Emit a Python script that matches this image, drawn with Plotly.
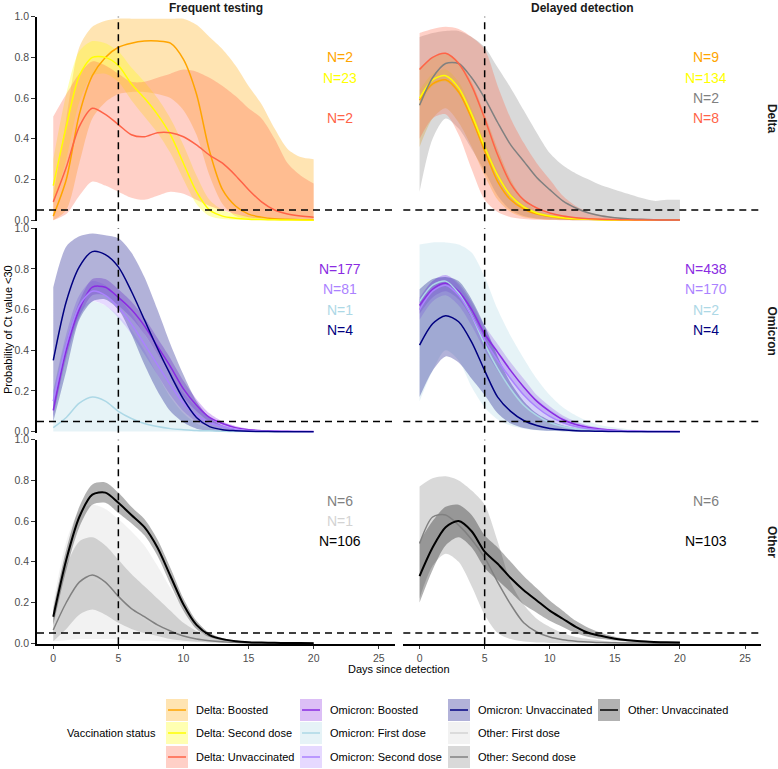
import plotly.graph_objects as go

W, H = 778, 769
DAYS = list(range(21))
X_TICKS = [0, 5, 10, 15, 20, 25]
Y_TICKS = [0.0, 0.2, 0.4, 0.6, 0.8, 1.0]
COL_TITLES = ["Frequent testing", "Delayed detection"]
ROW_TITLES = ["Delta", "Omicron", "Other"]

COLORS = {
    "Delta: Boosted": "#FFA500",
    "Delta: Second dose": "#FFFF00",
    "Delta: Unvaccinated": "#FF6347",
    "Delta: First dose": "#808080",
    "Omicron: Boosted": "#8A2BE2",
    "Omicron: First dose": "#ADD8E6",
    "Omicron: Second dose": "#AB82FF",
    "Omicron: Unvaccinated": "#000080",
    "Other: First dose": "#D3D3D3",
    "Other: Second dose": "#808080",
    "Other: Unvaccinated": "#000000",
}

# ---------------- Delta, frequent testing ----------------
FT_DELTA_BOOSTED_MEAN = [0.02,0.2,0.52,0.71,0.8,0.85,0.87,0.88,0.88,0.87,0.79,0.62,0.34,0.15,0.07,0.03,0.015,0.007,0.004,0.002,0.001]
FT_DELTA_BOOSTED_LO = [0.0,0.05,0.28,0.5,0.58,0.62,0.63,0.63,0.62,0.6,0.54,0.42,0.22,0.08,0.02,0.005,0.001,0,0,0,0]
FT_DELTA_BOOSTED_HI = [0.12,0.5,0.85,0.95,0.98,0.99,0.99,0.99,0.99,0.99,0.99,0.96,0.9,0.84,0.76,0.66,0.57,0.45,0.35,0.31,0.30]
FT_DELTA_SECOND_MEAN = [0.17,0.46,0.71,0.8,0.8,0.76,0.67,0.6,0.52,0.42,0.28,0.14,0.05,0.02,0.01,0.005,0.003,0.002,0.001,0.001,0.0]
FT_DELTA_SECOND_LO = [0.08,0.3,0.58,0.71,0.72,0.68,0.59,0.51,0.43,0.33,0.2,0.08,0.02,0.006,0.002,0.001,0,0,0,0,0]
FT_DELTA_SECOND_HI = [0.3,0.62,0.83,0.88,0.87,0.83,0.75,0.68,0.6,0.5,0.37,0.22,0.1,0.05,0.03,0.02,0.012,0.008,0.006,0.005,0.004]
FT_DELTA_UNVAX_MEAN = [0.09,0.26,0.46,0.55,0.52,0.47,0.42,0.41,0.43,0.43,0.41,0.37,0.32,0.28,0.22,0.15,0.09,0.05,0.03,0.02,0.015]
FT_DELTA_UNVAX_LO = [0.0,0.03,0.12,0.19,0.17,0.14,0.11,0.1,0.12,0.14,0.13,0.1,0.07,0.05,0.03,0.015,0.008,0.005,0.003,0.002,0.001]
FT_DELTA_UNVAX_HI = [0.51,0.62,0.72,0.78,0.76,0.72,0.68,0.68,0.7,0.72,0.74,0.73,0.7,0.66,0.61,0.55,0.5,0.4,0.28,0.22,0.18]

# ---------------- Delta, delayed detection ----------------
DD_DELTA_BOOSTED_MEAN = [0.59,0.67,0.69,0.63,0.5,0.34,0.19,0.1,0.055,0.03,0.018,0.01,0.006,0.004,0.002,0.001,0.001,0,0,0,0]
DD_DELTA_BOOSTED_LO = [0.36,0.5,0.55,0.48,0.36,0.22,0.1,0.04,0.015,0.006,0.002,0.001,0,0,0,0,0,0,0,0,0]
DD_DELTA_BOOSTED_HI = [0.75,0.8,0.82,0.78,0.68,0.52,0.35,0.2,0.1,0.05,0.03,0.018,0.01,0.006,0.004,0.002,0.001,0.001,0,0,0]
DD_DELTA_SECOND_MEAN = [0.6,0.69,0.71,0.65,0.52,0.36,0.22,0.12,0.065,0.035,0.02,0.012,0.007,0.004,0.002,0.001,0.001,0,0,0,0]
DD_DELTA_SECOND_LO = [0.56,0.66,0.68,0.62,0.49,0.33,0.2,0.105,0.055,0.03,0.016,0.01,0.006,0.003,0.002,0.001,0,0,0,0,0]
DD_DELTA_SECOND_HI = [0.64,0.72,0.74,0.68,0.55,0.39,0.24,0.135,0.075,0.04,0.024,0.014,0.008,0.005,0.003,0.002,0.001,0.001,0,0,0]
DD_DELTA_FIRST_MEAN = [0.565,0.7,0.77,0.77,0.7,0.6,0.48,0.37,0.29,0.21,0.15,0.095,0.06,0.035,0.02,0.012,0.007,0.004,0.002,0.001,0.001]
DD_DELTA_FIRST_LO = [0.14,0.4,0.5,0.45,0.35,0.24,0.12,0.05,0.02,0.008,0.003,0.001,0,0,0,0,0,0,0,0,0]
DD_DELTA_FIRST_HI = [0.9,0.92,0.93,0.93,0.9,0.85,0.75,0.65,0.54,0.43,0.33,0.27,0.23,0.2,0.17,0.15,0.13,0.11,0.095,0.1,0.1]
DD_DELTA_UNVAX_MEAN = [0.74,0.8,0.82,0.77,0.66,0.5,0.32,0.18,0.1,0.06,0.035,0.02,0.012,0.007,0.004,0.003,0.002,0.001,0.001,0.001,0.001]
DD_DELTA_UNVAX_LO = [0.4,0.5,0.52,0.42,0.25,0.1,0.04,0.015,0.006,0.002,0.001,0,0,0,0,0,0,0,0,0,0]
DD_DELTA_UNVAX_HI = [0.92,0.94,0.95,0.94,0.9,0.84,0.66,0.5,0.38,0.28,0.2,0.12,0.07,0.04,0.025,0.015,0.01,0.007,0.005,0.004,0.003]

# ---------------- Omicron, frequent testing ----------------
FT_OMI_BOOSTED_MEAN = [0.105,0.4,0.6,0.71,0.71,0.66,0.6,0.52,0.42,0.32,0.21,0.13,0.07,0.04,0.02,0.01,0.005,0.003,0.002,0.001,0.001]
FT_OMI_BOOSTED_LO = [0.07,0.36,0.56,0.67,0.67,0.62,0.56,0.48,0.38,0.28,0.17,0.1,0.05,0.028,0.014,0.007,0.003,0.002,0.001,0,0]
FT_OMI_BOOSTED_HI = [0.15,0.44,0.64,0.75,0.75,0.7,0.64,0.56,0.46,0.36,0.25,0.16,0.09,0.05,0.028,0.015,0.008,0.005,0.003,0.002,0.002]
FT_OMI_FIRST_MEAN = [0.02,0.07,0.14,0.17,0.15,0.1,0.065,0.04,0.025,0.015,0.01,0.006,0.004,0.002,0.001,0.001,0,0,0,0,0]
FT_OMI_FIRST_LO = [0.001]*21
FT_OMI_FIRST_HI = [0.2,0.45,0.6,0.64,0.62,0.57,0.5,0.4,0.28,0.17,0.09,0.04,0.02,0.01,0.005,0.003,0.002,0.001,0.001,0,0]
FT_OMI_SECOND_MEAN = [0.15,0.43,0.62,0.69,0.67,0.61,0.53,0.43,0.33,0.23,0.14,0.08,0.045,0.025,0.012,0.006,0.003,0.002,0.001,0.001,0]
FT_OMI_SECOND_LO = [0.1,0.38,0.57,0.64,0.62,0.56,0.48,0.38,0.28,0.18,0.1,0.05,0.025,0.012,0.005,0.002,0.001,0,0,0,0]
FT_OMI_SECOND_HI = [0.2,0.48,0.67,0.74,0.72,0.66,0.58,0.48,0.38,0.28,0.19,0.12,0.07,0.04,0.022,0.012,0.007,0.004,0.002,0.001,0.001]
FT_OMI_UNVAX_MEAN = [0.35,0.64,0.81,0.885,0.87,0.81,0.69,0.55,0.41,0.28,0.16,0.07,0.025,0.01,0.005,0.002,0.001,0,0,0,0]
FT_OMI_UNVAX_LO = [0.05,0.3,0.55,0.64,0.65,0.6,0.48,0.33,0.2,0.1,0.045,0.015,0.005,0.002,0.001,0,0,0,0,0,0]
FT_OMI_UNVAX_HI = [0.71,0.91,0.96,0.974,0.965,0.95,0.88,0.76,0.6,0.43,0.28,0.15,0.07,0.03,0.012,0.005,0.002,0.001,0,0,0]

# ---------------- Omicron, delayed detection ----------------
DD_OMI_BOOSTED_MEAN = [0.62,0.7,0.73,0.69,0.6,0.48,0.39,0.3,0.22,0.15,0.1,0.06,0.035,0.02,0.012,0.007,0.004,0.002,0.001,0.001,0.001]
DD_OMI_BOOSTED_LO = [0.58,0.66,0.69,0.65,0.56,0.44,0.35,0.26,0.18,0.12,0.075,0.04,0.022,0.012,0.006,0.003,0.002,0.001,0,0,0]
DD_OMI_BOOSTED_HI = [0.66,0.74,0.77,0.73,0.64,0.52,0.43,0.34,0.26,0.18,0.125,0.08,0.05,0.03,0.018,0.011,0.006,0.004,0.002,0.002,0.002]
DD_OMI_FIRST_MEAN = [0.64,0.72,0.74,0.68,0.57,0.43,0.31,0.21,0.13,0.08,0.045,0.025,0.014,0.008,0.005,0.003,0.002,0.001,0.001,0,0]
DD_OMI_FIRST_LO = [0.15,0.3,0.4,0.35,0.22,0.12,0.06,0.03,0.015,0.007,0.003,0.001,0,0,0,0,0,0,0,0,0]
DD_OMI_FIRST_HI = [0.92,0.93,0.93,0.92,0.88,0.76,0.6,0.47,0.36,0.26,0.18,0.12,0.08,0.05,0.03,0.02,0.012,0.008,0.005,0.003,0.002]
DD_OMI_SECOND_MEAN = [0.6,0.69,0.72,0.67,0.57,0.45,0.35,0.26,0.18,0.12,0.075,0.045,0.025,0.014,0.008,0.005,0.003,0.002,0.001,0.001,0]
DD_OMI_SECOND_LO = [0.55,0.64,0.67,0.62,0.52,0.4,0.3,0.21,0.14,0.08,0.045,0.025,0.012,0.006,0.003,0.001,0,0,0,0,0]
DD_OMI_SECOND_HI = [0.65,0.74,0.77,0.72,0.62,0.5,0.4,0.31,0.22,0.16,0.11,0.07,0.045,0.028,0.016,0.01,0.006,0.004,0.002,0.002,0.001]
DD_OMI_UNVAX_MEAN = [0.425,0.53,0.57,0.54,0.44,0.3,0.17,0.1,0.055,0.03,0.016,0.009,0.005,0.003,0.002,0.001,0,0,0,0,0]
DD_OMI_UNVAX_LO = [0.17,0.3,0.37,0.34,0.26,0.18,0.09,0.04,0.018,0.008,0.004,0.002,0.001,0,0,0,0,0,0,0,0]
DD_OMI_UNVAX_HI = [0.7,0.75,0.76,0.74,0.65,0.52,0.37,0.24,0.15,0.09,0.055,0.03,0.018,0.01,0.006,0.004,0.002,0.001,0.001,0,0]

# ---------------- Other, frequent testing ----------------
FT_OTH_FIRST_MEAN = [0.05,0.2,0.3,0.32,0.29,0.23,0.17,0.12,0.08,0.05,0.03,0.018,0.01,0.006,0.003,0.002,0.001,0,0,0,0]
FT_OTH_FIRST_LO = [0.01,0.015,0.02,0.02,0.02,0.018,0.015,0.012,0.01,0.007,0.005,0.003,0.002,0.001,0,0,0,0,0,0,0]
FT_OTH_FIRST_HI = [0.2,0.5,0.65,0.68,0.66,0.61,0.55,0.48,0.38,0.27,0.17,0.1,0.05,0.025,0.012,0.006,0.003,0.002,0.001,0,0]
FT_OTH_SECOND_MEAN = [0.065,0.2,0.3,0.335,0.3,0.23,0.17,0.13,0.09,0.06,0.035,0.02,0.012,0.007,0.004,0.002,0.001,0.001,0,0,0]
FT_OTH_SECOND_LO = [0.01,0.07,0.14,0.165,0.14,0.1,0.07,0.05,0.035,0.02,0.012,0.007,0.004,0.002,0.001,0,0,0,0,0,0]
FT_OTH_SECOND_HI = [0.15,0.38,0.5,0.52,0.48,0.41,0.34,0.28,0.22,0.16,0.1,0.06,0.035,0.02,0.012,0.007,0.004,0.002,0.001,0.001,0]
FT_OTH_UNVAX_MEAN = [0.13,0.41,0.62,0.73,0.74,0.69,0.63,0.57,0.47,0.33,0.19,0.09,0.04,0.02,0.01,0.005,0.003,0.002,0.001,0.001,0.0]
FT_OTH_UNVAX_LO = [0.09,0.36,0.57,0.68,0.69,0.64,0.59,0.53,0.43,0.29,0.16,0.07,0.03,0.013,0.006,0.003,0.001,0.001,0,0,0]
FT_OTH_UNVAX_HI = [0.17,0.46,0.67,0.78,0.79,0.74,0.67,0.61,0.51,0.37,0.22,0.11,0.05,0.025,0.013,0.007,0.004,0.002,0.001,0.001,0.001]

# ---------------- Other, delayed detection ----------------
DD_OTH_SECOND_MEAN = [0.49,0.62,0.63,0.58,0.51,0.42,0.3,0.19,0.1,0.055,0.03,0.017,0.01,0.006,0.003,0.002,0.001,0.001,0,0,0]
DD_OTH_SECOND_LO = [0.22,0.38,0.44,0.4,0.28,0.14,0.05,0.02,0.008,0.003,0.001,0,0,0,0,0,0,0,0,0,0]
DD_OTH_SECOND_HI = [0.77,0.81,0.82,0.8,0.75,0.68,0.5,0.3,0.19,0.12,0.08,0.05,0.03,0.02,0.012,0.008,0.005,0.003,0.002,0.001,0.001]
DD_OTH_UNVAX_MEAN = [0.33,0.47,0.57,0.6,0.55,0.45,0.39,0.32,0.26,0.21,0.16,0.12,0.08,0.05,0.035,0.022,0.014,0.009,0.006,0.004,0.003]
DD_OTH_UNVAX_LO = [0.2,0.36,0.48,0.52,0.47,0.37,0.31,0.25,0.19,0.15,0.11,0.08,0.05,0.03,0.02,0.013,0.008,0.005,0.003,0.002,0.002]
DD_OTH_UNVAX_HI = [0.5,0.6,0.67,0.68,0.63,0.53,0.47,0.4,0.33,0.27,0.21,0.16,0.11,0.075,0.05,0.032,0.02,0.013,0.009,0.006,0.004]

# sample sizes shown in each panel (group, N)
N_FT_DELTA = [("Delta: Boosted", 2), ("Delta: Second dose", 23), (None, None), ("Delta: Unvaccinated", 2)]
N_DD_DELTA = [("Delta: Boosted", 9), ("Delta: Second dose", 134), ("Delta: First dose", 2), ("Delta: Unvaccinated", 8)]
N_FT_OMI = [("Omicron: Boosted", 177), ("Omicron: Second dose", 81), ("Omicron: First dose", 1), ("Omicron: Unvaccinated", 4)]
N_DD_OMI = [("Omicron: Boosted", 438), ("Omicron: Second dose", 170), ("Omicron: First dose", 2), ("Omicron: Unvaccinated", 4)]
N_FT_OTH = [(None, None), ("Other: Second dose", 6), ("Other: First dose", 1), ("Other: Unvaccinated", 106)]
N_DD_OTH = [(None, None), ("Other: Second dose", 6), (None, None), ("Other: Unvaccinated", 103)]

PANELS = [
    (0, 0, [("Delta: Boosted", FT_DELTA_BOOSTED_MEAN, FT_DELTA_BOOSTED_LO, FT_DELTA_BOOSTED_HI),
            ("Delta: Second dose", FT_DELTA_SECOND_MEAN, FT_DELTA_SECOND_LO, FT_DELTA_SECOND_HI),
            ("Delta: Unvaccinated", FT_DELTA_UNVAX_MEAN, FT_DELTA_UNVAX_LO, FT_DELTA_UNVAX_HI)], N_FT_DELTA),
    (0, 1, [("Delta: Boosted", DD_DELTA_BOOSTED_MEAN, DD_DELTA_BOOSTED_LO, DD_DELTA_BOOSTED_HI),
            ("Delta: Second dose", DD_DELTA_SECOND_MEAN, DD_DELTA_SECOND_LO, DD_DELTA_SECOND_HI),
            ("Delta: First dose", DD_DELTA_FIRST_MEAN, DD_DELTA_FIRST_LO, DD_DELTA_FIRST_HI),
            ("Delta: Unvaccinated", DD_DELTA_UNVAX_MEAN, DD_DELTA_UNVAX_LO, DD_DELTA_UNVAX_HI)], N_DD_DELTA),
    (1, 0, [("Omicron: Boosted", FT_OMI_BOOSTED_MEAN, FT_OMI_BOOSTED_LO, FT_OMI_BOOSTED_HI),
            ("Omicron: First dose", FT_OMI_FIRST_MEAN, FT_OMI_FIRST_LO, FT_OMI_FIRST_HI),
            ("Omicron: Second dose", FT_OMI_SECOND_MEAN, FT_OMI_SECOND_LO, FT_OMI_SECOND_HI),
            ("Omicron: Unvaccinated", FT_OMI_UNVAX_MEAN, FT_OMI_UNVAX_LO, FT_OMI_UNVAX_HI)], N_FT_OMI),
    (1, 1, [("Omicron: Boosted", DD_OMI_BOOSTED_MEAN, DD_OMI_BOOSTED_LO, DD_OMI_BOOSTED_HI),
            ("Omicron: First dose", DD_OMI_FIRST_MEAN, DD_OMI_FIRST_LO, DD_OMI_FIRST_HI),
            ("Omicron: Second dose", DD_OMI_SECOND_MEAN, DD_OMI_SECOND_LO, DD_OMI_SECOND_HI),
            ("Omicron: Unvaccinated", DD_OMI_UNVAX_MEAN, DD_OMI_UNVAX_LO, DD_OMI_UNVAX_HI)], N_DD_OMI),
    (2, 0, [("Other: First dose", FT_OTH_FIRST_MEAN, FT_OTH_FIRST_LO, FT_OTH_FIRST_HI),
            ("Other: Second dose", FT_OTH_SECOND_MEAN, FT_OTH_SECOND_LO, FT_OTH_SECOND_HI),
            ("Other: Unvaccinated", FT_OTH_UNVAX_MEAN, FT_OTH_UNVAX_LO, FT_OTH_UNVAX_HI)], N_FT_OTH),
    (2, 1, [("Other: Second dose", DD_OTH_SECOND_MEAN, DD_OTH_SECOND_LO, DD_OTH_SECOND_HI),
            ("Other: Unvaccinated", DD_OTH_UNVAX_MEAN, DD_OTH_UNVAX_LO, DD_OTH_UNVAX_HI)], N_DD_OTH),
]

LEGEND_COLUMNS = [
    ["Delta: Boosted", "Delta: Second dose", "Delta: Unvaccinated"],
    ["Omicron: Boosted", "Omicron: First dose", "Omicron: Second dose"],
    ["Omicron: Unvaccinated", "Other: First dose", "Other: Second dose"],
    ["Other: Unvaccinated"],
]

FONT = "Liberation Sans, Arial, Helvetica, sans-serif"
ALPHA = 0.3


def rgba(hx, a):
    hx = hx.lstrip("#")
    r, g, b = int(hx[0:2], 16), int(hx[2:4], 16), int(hx[4:6], 16)
    return f"rgba({r},{g},{b},{a})"


def px(x):
    return x / W


def py(y):
    return 1 - y / H


# layout geometry in pixels
COL_X = [(37.0, 395.0), (403.3, 761.3)]
ROW_Y = [(16.7, 221.2), (228.2, 432.7), (439.7, 644.2)]
X_RANGE = [-1.25, 26.25]
Y_RANGE = [-0.005, 1.0]

fig = go.Figure()
layout = dict(
    width=W, height=H, margin=dict(l=0, r=0, t=0, b=0, pad=0, autoexpand=False),
    paper_bgcolor="white", plot_bgcolor="white", showlegend=False,
    font=dict(family=FONT, size=11, color="#000000"),
    template="none",
)
shapes = []
annotations = []

for (row, col, series, nlabels) in PANELS:
    k = row * 2 + col + 1
    xa = "x" if k == 1 else f"x{k}"
    ya = "y" if k == 1 else f"y{k}"
    xkey = "xaxis" if k == 1 else f"xaxis{k}"
    ykey = "yaxis" if k == 1 else f"yaxis{k}"
    bottom = row == 2
    left = col == 0
    layout[xkey] = dict(
        domain=[px(COL_X[col][0]), px(COL_X[col][1])], anchor=ya, range=X_RANGE, automargin=False,
        tickvals=X_TICKS, showticklabels=bottom, showline=bottom, linecolor="black", linewidth=1.6,
        ticks="outside" if bottom else "", ticklen=3, tickwidth=1, tickcolor="#333333",
        tickfont=dict(size=10.5, color="#4D4D4D"), showgrid=False, zeroline=False,
    )
    layout[ykey] = dict(
        domain=[py(ROW_Y[row][1]), py(ROW_Y[row][0])], anchor=xa, range=Y_RANGE, automargin=False,
        tickvals=Y_TICKS, tickformat=".1f", showticklabels=left, showline=left, linecolor="black", linewidth=1.6,
        ticks="outside" if left else "", ticklen=4, tickwidth=1, tickcolor="#333333",
        tickfont=dict(size=10.5, color="#4D4D4D"), showgrid=False, zeroline=False,
    )
    # ribbons
    for name, mean, lo, hi in series:
        c = COLORS[name]
        fig.add_trace(go.Scatter(x=DAYS, y=hi, xaxis=xa, yaxis=ya, mode="lines",
                                 line=dict(width=0, shape="spline", smoothing=0.8), hoverinfo="skip"))
        fig.add_trace(go.Scatter(x=DAYS, y=lo, xaxis=xa, yaxis=ya, mode="lines", fill="tonexty",
                                 fillcolor=rgba(c, ALPHA),
                                 line=dict(width=0, shape="spline", smoothing=0.8), hoverinfo="skip"))
    # lines
    for name, mean, lo, hi in series:
        c = COLORS[name]
        fig.add_trace(go.Scatter(x=DAYS, y=mean, xaxis=xa, yaxis=ya, mode="lines", name=name,
                                 line=dict(width=1.5 if c != "#000000" else 2.0, color=c,
                                           shape="spline", smoothing=0.8)))
    # reference lines
    shapes.append(dict(type="line", xref=f"{xa} domain", yref=ya, x0=0, x1=1, y0=0.05, y1=0.05,
                       line=dict(color="black", width=1.5, dash="7px,5px")))
    shapes.append(dict(type="line", xref=xa, yref=f"{ya} domain", x0=5, x1=5, y0=0, y1=1,
                       line=dict(color="black", width=1.5, dash="7px,5px")))
    # N labels
    for slot, (name, n) in enumerate(nlabels):
        if name is None:
            continue
        annotations.append(dict(x=22, y=0.8 - 0.1 * slot, xref=xa, yref=ya, text=f"N={n}",
                                showarrow=False, font=dict(size=14, color=COLORS[name]),
                                xanchor="center", yanchor="middle"))

# strip titles
for col, t in enumerate(COL_TITLES):
    annotations.append(dict(x=px((COL_X[col][0] + COL_X[col][1]) / 2), y=py(8), xref="paper", yref="paper",
                            text=f"<b>{t}</b>", showarrow=False, font=dict(size=12, color="#1A1A1A"),
                            xanchor="center", yanchor="middle"))
for row, t in enumerate(ROW_TITLES):
    annotations.append(dict(x=px(772), y=py((ROW_Y[row][0] + ROW_Y[row][1]) / 2), xref="paper", yref="paper",
                            text=f"<b>{t}</b>", showarrow=False, textangle=90,
                            font=dict(size=12, color="#1A1A1A"), xanchor="center", yanchor="middle"))

# axis titles
annotations.append(dict(x=px(8), y=py(330), xref="paper", yref="paper", text="Probability of Ct value <30",
                        showarrow=False, textangle=-90, font=dict(size=11, color="black"),
                        xanchor="center", yanchor="middle"))
annotations.append(dict(x=px(399), y=py(669), xref="paper", yref="paper", text="Days since detection",
                        showarrow=False, font=dict(size=11, color="black"), xanchor="center", yanchor="middle"))

# legend (drawn manually, ggplot style keys)
KEY_X = [166, 300, 448, 598]
ROW_CY = [710, 733, 757]
KEY = 22
annotations.append(dict(x=px(158), y=py(733), xref="paper", yref="paper", text="Vaccination status",
                        showarrow=False, font=dict(size=11, color="black"), xanchor="right", yanchor="middle"))
for ci, names in enumerate(LEGEND_COLUMNS):
    for ri, name in enumerate(names):
        c = COLORS[name]
        x0 = KEY_X[ci]
        cy = ROW_CY[ri]
        shapes.append(dict(type="rect", xref="paper", yref="paper", x0=px(x0), x1=px(x0 + KEY),
                           y0=py(cy + KEY / 2), y1=py(cy - KEY / 2), fillcolor=rgba(c, ALPHA),
                           line=dict(width=0), layer="above"))
        shapes.append(dict(type="line", xref="paper", yref="paper", x0=px(x0 + 2), x1=px(x0 + KEY - 2),
                           y0=py(cy), y1=py(cy), line=dict(color=c, width=1.5), layer="above"))
        annotations.append(dict(x=px(x0 + KEY + 6), y=py(cy), xref="paper", yref="paper", text=name,
                                showarrow=False, font=dict(size=11, color="black"),
                                xanchor="left", yanchor="middle"))

layout["shapes"] = shapes
layout["annotations"] = annotations
fig.update_layout(**layout)
fig.write_html("out.html", config={"displayModeBar": False},
               post_script="document.body.style.margin='0';document.body.style.overflow='hidden';")
